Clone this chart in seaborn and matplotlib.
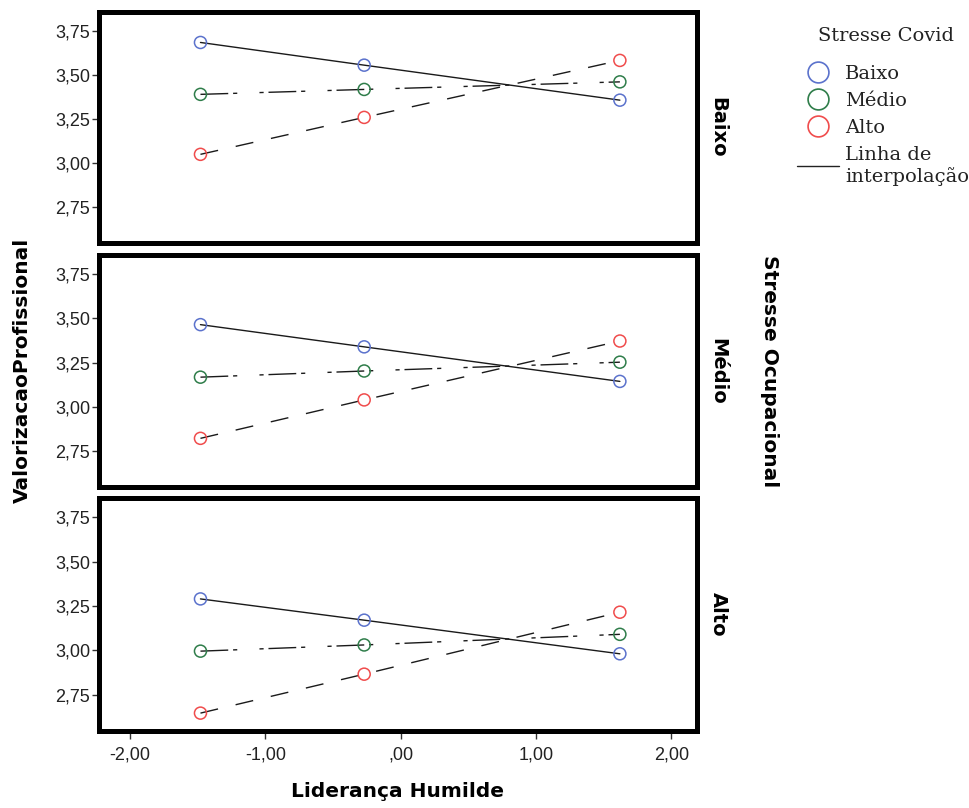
import pandas as pd
import matplotlib
matplotlib.use('Agg')
import matplotlib.pyplot as plt
import seaborn as sns
from matplotlib.lines import Line2D
from matplotlib.ticker import FixedLocator, FixedFormatter

# 値は元画像から読み取ったもの
lider = [-1.48, -0.27, 1.62]
ocup_levels = ['Baixo', 'Médio', 'Alto']
covid_levels = ['Baixo', 'Médio', 'Alto']

# Stresse Ocupacional = Baixo
baixo_baixo = [3.684, 3.555, 3.356]
baixo_medio = [3.389, 3.417, 3.460]
baixo_alto = [3.048, 3.258, 3.582]
# Stresse Ocupacional = Médio
medio_baixo = [3.465, 3.339, 3.143]
medio_medio = [3.167, 3.202, 3.252]
medio_alto = [2.820, 3.038, 3.372]
# Stresse Ocupacional = Alto
alto_baixo = [3.290, 3.170, 2.980]
alto_medio = [2.995, 3.030, 3.090]
alto_alto = [2.645, 2.865, 3.215]

yticks = [2.75, 3.00, 3.25, 3.50, 3.75]
ytick_labels = ['2,75', '3,00', '3,25', '3,50', '3,75']
xticks = [-2, -1, 0, 1, 2]
xtick_labels = ['-2,00', '-1,00', ',00', '1,00', '2,00']

series = {
    ('Baixo', 'Baixo'): baixo_baixo, ('Baixo', 'Médio'): baixo_medio, ('Baixo', 'Alto'): baixo_alto,
    ('Médio', 'Baixo'): medio_baixo, ('Médio', 'Médio'): medio_medio, ('Médio', 'Alto'): medio_alto,
    ('Alto', 'Baixo'): alto_baixo, ('Alto', 'Médio'): alto_medio, ('Alto', 'Alto'): alto_alto,
}
rows = []
for (oc, cv), vals in series.items():
    for x, v in zip(lider, vals):
        rows.append({'ocup': oc, 'covid': cv, 'lider': x, 'valor': v})
df = pd.DataFrame(rows)

cores = {'Baixo': '#5b72cc', 'Médio': '#2f7d4a', 'Alto': '#f04c4c'}
# 実線 / 一点鎖線(点が2つ) / 破線
dash_map = {'Baixo': '', 'Médio': (20, 3.5, 3, 16, 3, 3.5), 'Alto': (13, 13)}

sns.set_theme(style='white')
plt.rcParams['font.family'] = ['Liberation Sans', 'DejaVu Sans']

fig = plt.figure(figsize=(9.7, 8.08), dpi=100)
W, H = 970, 808
left, right = 99, 697
panels = [(11.5, 243), (255, 487), (498, 731)]
bold = {'family': 'DejaVu Sans', 'weight': 'bold'}

for i, lvl in enumerate(ocup_levels):
    top, bot = panels[i]
    ax = fig.add_axes([left / W, 1 - bot / H, (right - left) / W, (bot - top) / H])
    sub = df[df['ocup'] == lvl]
    sns.lineplot(data=sub, x='lider', y='valor', style='covid', style_order=covid_levels,
                 dashes=dash_map, color='#1a1a1a', lw=1, ax=ax, legend=False, sort=False)
    for c in covid_levels:
        s = sub[sub['covid'] == c]
        sns.scatterplot(data=s, x='lider', y='valor', ax=ax, s=75, facecolor='none',
                        edgecolor=cores[c], linewidth=1.1, legend=False, zorder=3)
    ax.set_xlim(-2.23, 2.19)
    ax.set_ylim(2.544, 3.86)
    ax.yaxis.set_major_locator(FixedLocator(yticks))
    ax.yaxis.set_major_formatter(FixedFormatter(ytick_labels))
    ax.set_xlabel('')
    ax.set_ylabel('')
    for sp in ax.spines.values():
        sp.set_linewidth(3.6)
        sp.set_color('black')
    ax.tick_params(axis='y', left=True, length=5, width=1, color='#333333',
                   labelsize=13, labelcolor='#222222', pad=1.5)
    if i == 2:
        ax.xaxis.set_major_locator(FixedLocator(xticks))
        ax.xaxis.set_major_formatter(FixedFormatter(xtick_labels))
        ax.tick_params(axis='x', bottom=True, length=6, width=1, color='#333333',
                       labelsize=13, labelcolor='#222222', pad=5)
    else:
        ax.set_xticks([])
    ax.text(1.035, 0.5, lvl, transform=ax.transAxes, rotation=-90, ha='center',
            va='center', fontsize=14, color='black', fontdict=bold)

fig.text(22 / W, 1 - 370 / H, 'ValorizacaoProfissional', rotation=90, ha='center',
         va='center', fontsize=14.5, color='black', fontdict=bold)
fig.text(398 / W, 1 - 797 / H, 'Liderança Humilde', ha='center', va='baseline',
         fontsize=14.5, color='black', fontdict=bold)
fig.text(770 / W, 1 - 371 / H, 'Stresse Ocupacional', rotation=-90, ha='center',
         va='center', fontsize=14.5, color='black', fontdict=bold)

# 凡例
fig.text(886 / W, 1 - 36 / H, 'Stresse Covid', ha='center', va='center',
         family='DejaVu Serif', fontsize=14, color='#222222')
handles = [Line2D([], [], ls='none', marker='o', ms=15, mfc='none', mec=cores[c], mew=1.2)
           for c in covid_levels]
handles.append(Line2D([], [], color='#222222', lw=1))
labels = covid_levels + ['Linha de\ninterpolação']
leg = fig.legend(handles, labels, loc='upper left', bbox_to_anchor=(797 / W, 1 - 65 / H),
                 frameon=False, handlelength=2.16, handletextpad=0.3,
                 labelspacing=0.46, borderaxespad=0, borderpad=0,
                 prop={'family': 'DejaVu Serif', 'size': 14})
for t in leg.get_texts():
    t.set_color('#222222')

fig.savefig('out.png', dpi=100)
